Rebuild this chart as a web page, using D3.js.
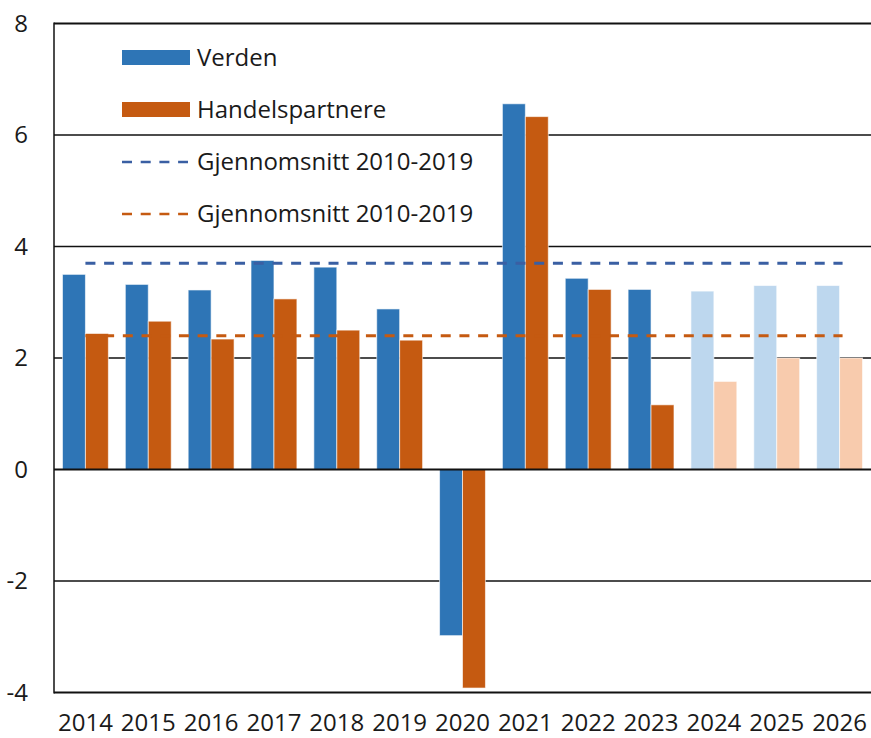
<!DOCTYPE html>
<html>
<head>
<meta charset="utf-8">
<script src="https://cdn.jsdelivr.net/npm/d3@7"></script>
<style>
body { margin: 0; background: #fff; }
text { font-family: "Open Sans", sans-serif; fill: #1a1a1a; }
</style>
</head>
<body>
<div id="chart"></div>
<script>
var width = 871;
var height = 738;

var years = ["2014","2015","2016","2017","2018","2019","2020"
             ,"2021","2022","2023","2024","2025","2026"];
var projYears = ["2024","2025","2026"];
var verden = [3.5, 3.32, 3.22, 3.75, 3.63, 2.88, -2.98, 6.56, 3.43, 3.23, 3.2, 3.3, 3.3];
var handel = [2.44, 2.66, 2.34, 3.06, 2.5, 2.32, -3.92, 6.33, 3.23, 1.16, 1.58, 2.0, 2.0];
var snittVerden = 3.7;
var snittHandel = 2.4;
var yTicks = [-4, -2, 0, 2, 4, 6, 8];
var legendLabels = ["Verden", "Handelspartnere", "Gjennomsnitt 2010-2019", "Gjennomsnitt 2010-2019"];

var margin = {left: 54, right: 0, top: 23.5, bottom: 45.5};

var colors = {
    v: "#2e75b6", h: "#c55a11",
    vLight: "#bdd7ee", hLight: "#f8cbad",
    vDash: "#3a5fa3", hDash: "#c55a11"
};

var svg = d3.select("#chart")
    .append("svg")
    .attr("width", width)
    .attr("height", height);

var x = d3.scaleBand()
    .domain(years)
    .range([margin.left, width - margin.right])
    .paddingInner(0.27)
    .paddingOuter(0.135);

var xs = d3.scaleBand()
    .domain(["v", "h"])
    .range([0, x.bandwidth()]);

var y = d3.scaleLinear()
    .domain([-4, 8])
    .range([height - margin.bottom, margin.top]);

// gridlines (behind bars)
svg.append("g")
    .selectAll("line")
    .data(yTicks.filter(function(d) {return d != 0 && d != -4}))
    .enter()
    .append("line")
    .attr("x1", margin.left)
    .attr("x2", width)
    .attr("y1", function(d) {return y(d)})
    .attr("y2", function(d) {return y(d)})
    .attr("stroke", "#111")
    .attr("stroke-width", function(d) {return d == 8 ? 2 : 1.5});

var rows = years.map(function(yr, i) {
    return {year: yr, v: verden[i], h: handel[i], proj: projYears.indexOf(yr) >= 0};
});

var groups = svg.append("g")
    .selectAll("g")
    .data(rows)
    .enter()
    .append("g")
    .attr("transform", function(d) {return "translate(" + x(d.year) + ",0)"});

groups.selectAll("rect")
    .data(function(d) {
        return [{key: "v", value: d.v, proj: d.proj}, {key: "h", value: d.h, proj: d.proj}];
    })
    .enter()
    .append("rect")
    .attr("x", function(d) {return xs(d.key)})
    .attr("width", xs.bandwidth())
    .attr("y", function(d) {return y(Math.max(0, d.value))})
    .attr("height", function(d) {return Math.abs(y(d.value) - y(0))})
    .attr("fill", function(d) {return colors[d.key + (d.proj ? "Light" : "")]})
    .attr("stroke", "#fff")
    .attr("stroke-opacity", 0.6)
    .attr("stroke-width", 1);

// average lines
var avgs = [{value: snittVerden, color: colors.vDash}, {value: snittHandel, color: colors.hDash}];
var x0 = x(years[0]) + x.bandwidth() / 2;
var x1 = x(years[years.length - 1]) + x.bandwidth() / 2 + 3;

svg.append("g")
    .selectAll("line")
    .data(avgs)
    .enter()
    .append("line")
    .attr("x1", x0)
    .attr("x2", x1)
    .attr("y1", function(d) {return y(d.value)})
    .attr("y2", function(d) {return y(d.value)})
    .attr("stroke", function(d) {return d.color})
    .attr("stroke-width", 3)
    .attr("stroke-dasharray", "10,8.7");

// zero line, bottom axis, left axis
svg.append("line")
    .attr("x1", margin.left).attr("x2", width)
    .attr("y1", y(0)).attr("y2", y(0))
    .attr("stroke", "#111").attr("stroke-width", 2);

svg.append("line")
    .attr("x1", margin.left).attr("x2", width)
    .attr("y1", y(-4)).attr("y2", y(-4))
    .attr("stroke", "#111").attr("stroke-width", 2);

svg.append("line")
    .attr("x1", margin.left).attr("x2", margin.left)
    .attr("y1", y(8) - 1).attr("y2", y(-4) + 1)
    .attr("stroke", "#111").attr("stroke-width", 1.5);

// tick labels
svg.append("g")
    .selectAll("text")
    .data(yTicks)
    .enter()
    .append("text")
    .attr("x", 28)
    .attr("y", function(d) {return y(d)})
    .attr("dy", "0.35em")
    .attr("text-anchor", "end")
    .attr("font-size", "24px")
    .text(function(d) {return d});

svg.append("g")
    .selectAll("text")
    .data(years)
    .enter()
    .append("text")
    .attr("x", function(d) {return x(d) + x.bandwidth() / 2})
    .attr("y", 731)
    .attr("text-anchor", "middle")
    .attr("font-size", "24px")
    .text(function(d) {return d});

// legend
var legend = svg.append("g");
var legendY = [57.5, 109.5, 162, 214];

legend.selectAll("rect")
    .data([colors.v, colors.h])
    .enter()
    .append("rect")
    .attr("x", 122)
    .attr("y", function(d, i) {return legendY[i] - 7.5})
    .attr("width", 68)
    .attr("height", 15)
    .attr("fill", function(d) {return d});

legend.selectAll("line")
    .data([colors.vDash, colors.hDash])
    .enter()
    .append("line")
    .attr("x1", 122)
    .attr("x2", 188)
    .attr("y1", function(d, i) {return legendY[i + 2]})
    .attr("y2", function(d, i) {return legendY[i + 2]})
    .attr("stroke", function(d) {return d})
    .attr("stroke-width", 2.5)
    .attr("stroke-dasharray", "10,8.7");

legend.selectAll("text")
    .data(legendLabels)
    .enter()
    .append("text")
    .attr("x", 197)
    .attr("y", function(d, i) {return legendY[i]})
    .attr("dy", "0.35em")
    .attr("font-size", "24px")
    .text(function(d) {return d});
</script>
</body>
</html>
